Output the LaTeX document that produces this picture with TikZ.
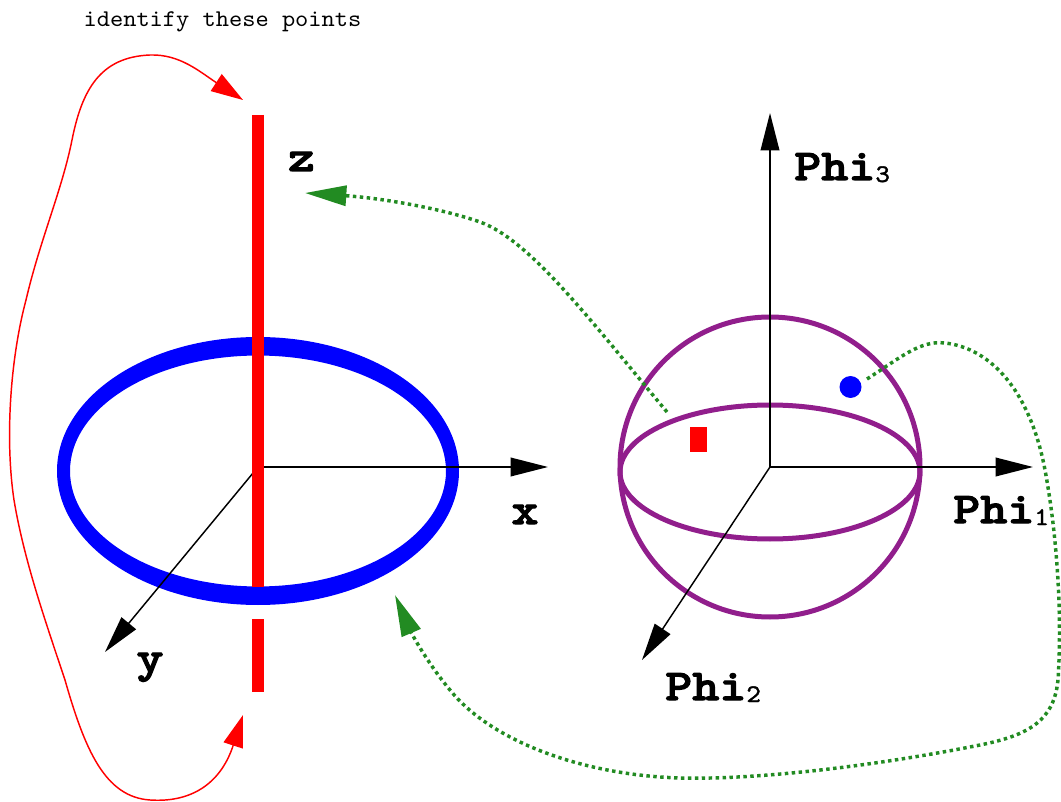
\documentclass[tikz,border=0pt]{standalone}
\usetikzlibrary{arrows.meta}
\definecolor{sph}{RGB}{145,30,140}
\definecolor{grn}{RGB}{34,139,34}
\font\labfont="[lmmonolt10-bold.otf]:extend=1.17;embolden=2.5" at 33pt
\font\subfont="[lmmono10-regular.otf]:extend=1.1;embolden=1.5" at 19pt
\font\notefont="[lmmono10-regular.otf]:extend=1.05" at 18pt
\newcommand{\subdig}[1]{{\subfont\raisebox{-1.5pt}{#1}}}
\begin{document}
\begin{tikzpicture}[x=0.75pt,y=-0.75pt,
  axis/.style={black, line width=1.1pt, -{Triangle[length=28pt,width=14pt]}},
  redlink/.style={red, line width=1.1pt, {Triangle[length=24pt,width=15pt]}-{Triangle[length=24pt,width=15pt]}},
  greenlink/.style={grn, line width=2.6pt, dash pattern=on 2.6pt off 2.6pt, -{Triangle[length=31pt,width=15pt]}},
  redbar/.style={red, line width=9pt},
  sphline/.style={sph, line width=3.75pt},
  lab/.style={inner sep=0pt, font=\labfont},
  note/.style={inner sep=0pt, font=\notefont}]
\useasboundingbox (0,0) rectangle (1061,802);

% coordinates
\coordinate (O1) at (258,467);
\coordinate (X1) at (548,467);
\coordinate (Y1) at (105,652);
\coordinate (E1) at (258,471);
\coordinate (rz1) at (258,115);
\coordinate (rz2) at (258,587);
\coordinate (rz3) at (258,619);
\coordinate (rz4) at (258,692);
\coordinate (rt) at (243,100);
\coordinate (rb) at (243,715);

\coordinate (O2) at (770,467);
\coordinate (P1) at (1033,467);
\coordinate (P2) at (642,660);
\coordinate (P3) at (770,113);
\coordinate (S) at (770,467);
\coordinate (Eq) at (770,472);
\coordinate (bd) at (850.5,387);

\coordinate (g1s) at (667,412);
\coordinate (g1e) at (305,193);
\coordinate (g2s) at (867,379);
\coordinate (g2e) at (395,595);

% left picture
\fill[blue, even odd rule] (E1) ellipse [x radius=150.75pt, y radius=100.5pt]
                           (E1) ellipse [x radius=141pt, y radius=86.6pt];
\draw[axis] (O1) -- (X1);
\draw[axis] (O1) -- (Y1);
\draw[redbar] (rz1) -- (rz2);
\draw[redbar] (rz3) -- (rz4);

% right picture
\draw[sphline] (S) circle [radius=112.5pt];
\draw[sphline] (Eq) ellipse [x radius=112.5pt, y radius=50.25pt];
\draw[axis] (O2) -- (P1);
\draw[axis] (O2) -- (P2);
\draw[axis] (O2) -- (P3);
\fill[red] (690,427) rectangle (707,452);
\fill[blue] (bd) circle [radius=8.25pt];

% labels
\node[note, anchor=base] (idt) at (222.5,26.5) {identify these points};
\node[lab, anchor=base] (lz) at (301.5,171) {z};
\node[lab, anchor=base] (lx) at (525,524) {x};
\node[lab, anchor=base] (ly) at (150,672) {y};
\node[lab, anchor=base west] (l3) at (794,180) {Phi\subdig{3}};
\node[lab, anchor=base west] (l1) at (953,523) {Phi\subdig{1}};
\node[lab, anchor=base west] (l2) at (665,700) {Phi\subdig{2}};

% red identification curve
\draw[redlink] (rt) .. controls (200,72) and (180,54) .. (150,55)
  .. controls (100,57) and (82,90) .. (72,140)
  .. controls (62,190) and (40,240) .. (26,300)
  .. controls (10,360) and (5,440) .. (14,500)
  .. controls (24,560) and (45,620) .. (65,680)
  .. controls (85,750) and (105,797) .. (150,800)
  .. controls (195,803) and (222,780) .. (rb);

% green links
\draw[greenlink] (g1s) .. controls (590,320) and (530,240) .. (480,222)
  .. controls (440,208) and (380,198) .. (g1e);
\draw[greenlink] (g2s) .. controls (900,358) and (920,340) .. (945,343)
  .. controls (990,348) and (1030,390) .. (1045,470)
  .. controls (1058,540) and (1062,620) .. (1058,680)
  .. controls (1054,720) and (1030,735) .. (980,745)
  .. controls (880,765) and (760,780) .. (680,778)
  .. controls (580,775) and (490,740) .. (450,690)
  .. controls (425,660) and (410,630) .. (g2e);
\end{tikzpicture}
\end{document}
